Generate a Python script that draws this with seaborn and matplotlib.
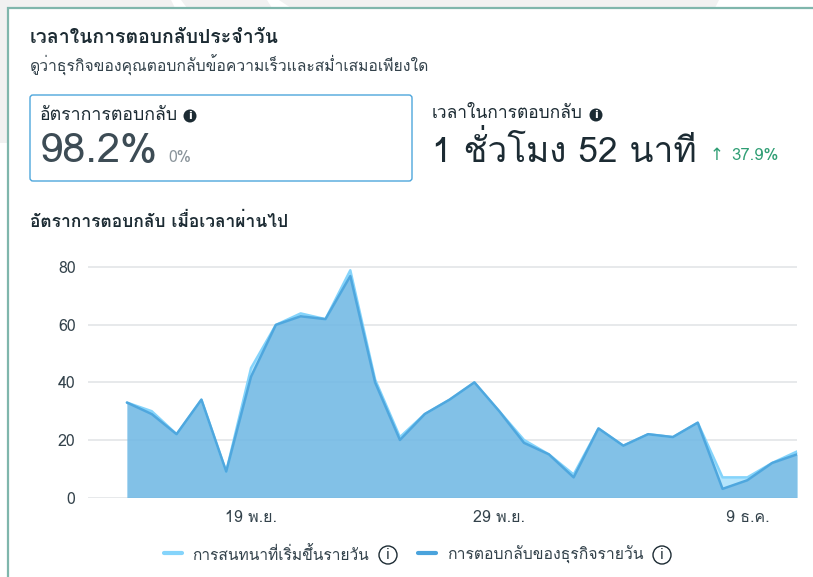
import matplotlib
matplotlib.use("Agg")
import matplotlib.pyplot as plt
from matplotlib import font_manager as fm
from matplotlib.ft2font import FT2Font
from matplotlib.patches import Circle, FancyBboxPatch, Polygon, Rectangle
import pandas as pd
import seaborn as sns

days = pd.date_range("2023-11-14", periods=28)
started = [33, 30, 22, 34, 9, 45, 60, 64, 62, 79, 41, 21, 29, 34,
           40, 30, 20, 15, 8, 24, 18, 22, 21, 26, 7, 7, 12, 16]
replied = [33, 29, 22, 34, 9, 42, 60, 63, 62, 77, 40, 20, 29, 34,
           40, 30, 19, 15, 7, 24, 18, 22, 21, 26, 3, 6, 12, 15]
yticks = [0, 20, 40, 60, 80]
xtick_days = ["2023-11-19", "2023-11-29", "2023-12-09"]
xtick_labels = ["19 พ.ย.", "29 พ.ย.", "9 ธ.ค."]
legend_labels = ["การสนทนาที่เริ่มขึ้นรายวัน", "การตอบกลับของธุรกิจรายวัน"]

sns.set_theme(style="white")

# look for an installed font that has thai glyphs
thai_fonts = []
for f in fm.fontManager.ttflist:
    try:
        if 0x0E01 in FT2Font(f.fname).get_charmap() and f.name not in thai_fonts:
            thai_fonts.append(f.name)
    except Exception:
        pass
plt.rcParams["font.family"] = thai_fonts[:1] + ["Open Sans", "DejaVu Sans"]

fig = plt.figure(figsize=(8.13, 5.77), dpi=100, facecolor="white")

# page layer in pixel coordinates
bg = fig.add_axes([0, 0, 1, 1])
bg.set_xlim(0, 813)
bg.set_ylim(577, 0)
bg.axis("off")
bg.add_patch(Rectangle((0, 0), 813, 8, color="#f1f1f1", lw=0))
bg.add_patch(Rectangle((0, 0), 8, 143, color="#f1f1f1", lw=0))
bg.add_patch(Polygon([(171, 0), (181, 0), (187, 8), (175, 8)], color="white", lw=0))
bg.add_patch(Polygon([(267, 0), (279, 0), (291, 8), (272, 8)], color="white", lw=0))
bg.add_patch(Polygon([(719, 0), (813, 0), (813, 8), (715, 8)], color="white", lw=0))
bg.add_patch(Rectangle((8, 8), 830, 600, fc="white", ec="#7fb6ac", lw=1.6))
bg.add_patch(FancyBboxPatch((30, 95), 382, 86, boxstyle="round,pad=0,rounding_size=3",
                            fc="white", ec="#4da6dc", lw=1.0))

dark = "#1c2b33"
bg.text(30, 38, "เวลาในการตอบกลับประจำวัน", fontsize=14, color=dark, va="center", fontweight="bold")
bg.text(30, 65, "ดูว่าธุรกิจของคุณตอบกลับข้อความเร็วและสม่ำเสมอเพียงใด", fontsize=11.3, color="#33424b", va="center")
bg.text(40, 115, "อัตราการตอบกลับ", fontsize=12.8, color=dark, va="center")
bg.text(40, 152, "98.2%", fontsize=30, color="#3d4c55", va="center")
bg.text(168, 158, "0%", fontsize=11.5, color="#8a949b", va="center")
bg.text(432, 114, "เวลาในการตอบกลับ", fontsize=12.5, color=dark, va="center")
bg.text(432, 151, "1 ชั่วโมง 52 นาที", fontsize=25.4, color=dark, va="center")
bg.text(710, 155, "↑", fontsize=12, color="#2f9e74", va="center", family="DejaVu Sans")
bg.text(731, 156, "37.9%", fontsize=12, color="#2f9e74", va="center")
bg.text(30, 221, "อัตราการตอบกลับ เมื่อเวลาผ่านไป", fontsize=12.5, color=dark, va="center", fontweight="bold")

for cx, cy in [(190, 116), (596, 115)]:
    bg.add_patch(Circle((cx, cy), 6.5, color=dark, lw=0))
    bg.text(cx, cy, "i", color="white", fontsize=8, fontweight="bold", ha="center", va="center", family="DejaVu Sans")

# legend
bg.plot([164, 182], [553, 553], color="#85d4fb", lw=3, solid_capstyle="round")
bg.text(192, 555, legend_labels[0], fontsize=11.2, color="#33424b", va="center")
bg.plot([418, 436], [553, 553], color="#4aa3dc", lw=3, solid_capstyle="round")
bg.text(447, 555, legend_labels[1], fontsize=11.3, color="#33424b", va="center")
for cx in [388, 662]:
    bg.add_patch(Circle((cx, 555), 9, fc="white", ec=dark, lw=1))
    bg.text(cx, 555, "i", color=dark, fontsize=10, ha="center", va="center", family="DejaVu Sans")

# chart
ax = fig.add_axes([88 / 813, 1 - 497.5 / 577, (797 - 88) / 813, (497.5 - 253) / 577])
ax.patch.set_alpha(0)
df = pd.DataFrame({"day": days, "started": started, "replied": replied})
ax.fill_between(df["day"], df["started"], color="#85d4fb", alpha=0.6, lw=0)
ax.fill_between(df["day"], df["replied"], color="#71b5e1", alpha=0.75, lw=0)
sns.lineplot(data=df, x="day", y="started", ax=ax, color="#85d4fb", lw=1.8)
sns.lineplot(data=df, x="day", y="replied", ax=ax, color="#4fa7de", lw=1.8)

step = 24.85
x0 = days[0] - pd.Timedelta(days=(127 - 88) / step)
ax.set_xlim(x0, days[-1])
ax.set_ylim(0, 85)
ax.set_yticks(yticks)
ax.set_xticks(pd.to_datetime(xtick_days))
ax.set_xticklabels(xtick_labels)
ax.set_xlabel("")
ax.set_ylabel("")
ax.grid(axis="y", color="#e3e5e7", lw=1.2)
ax.set_axisbelow(True)
ax.tick_params(axis="both", length=0, labelsize=11.5, labelcolor="#33424b", pad=9)
sns.despine(ax=ax, left=True, bottom=True, top=True, right=True)

fig.savefig("out.png", dpi=100)
